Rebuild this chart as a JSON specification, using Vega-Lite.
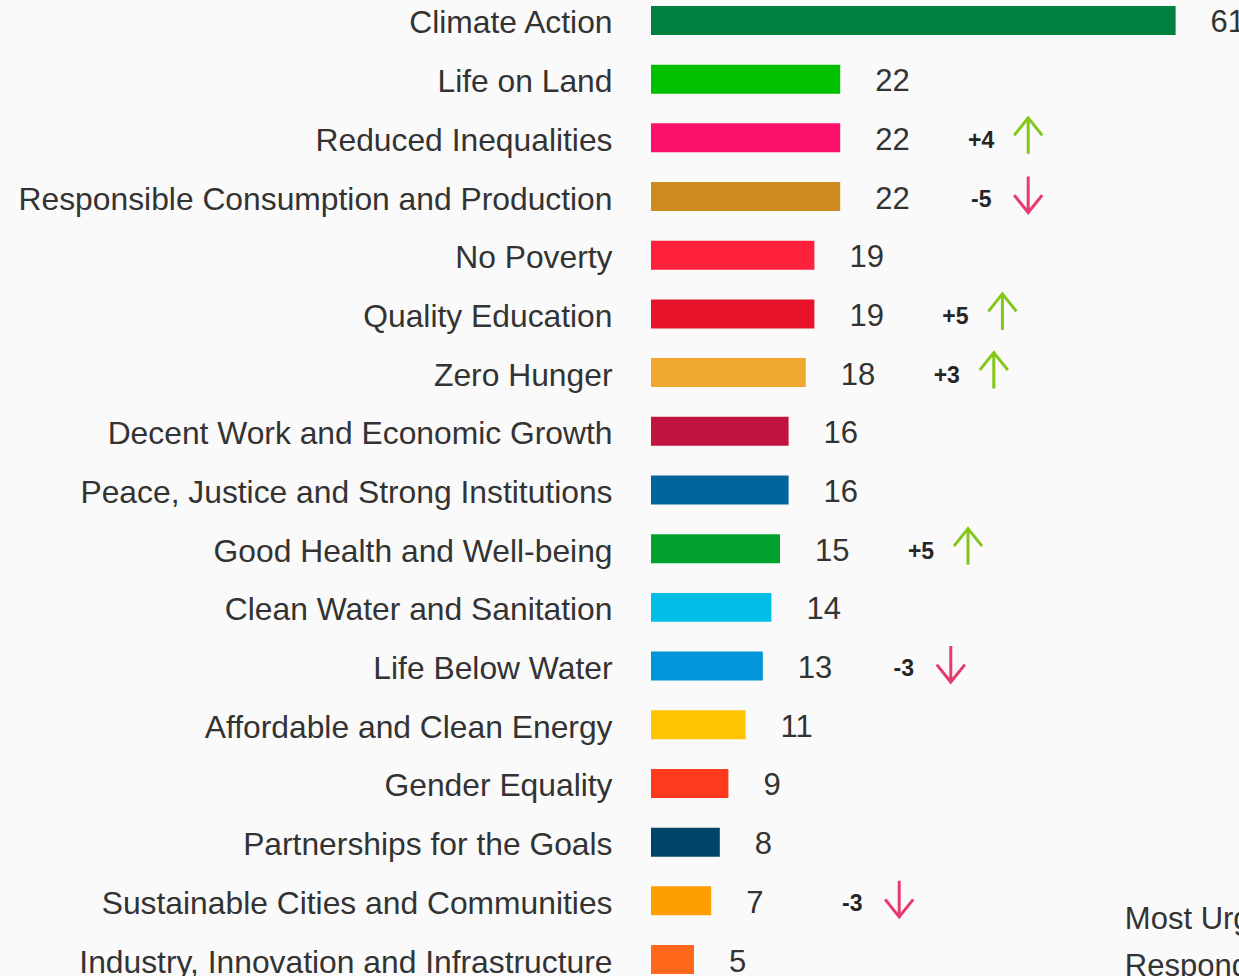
{
  "$schema": "https://vega.github.io/schema/vega-lite/v6.json",
  "autosize": "none",
  "width": 602,
  "height": 976,
  "padding": {"left": 651, "top": 0, "right": 0, "bottom": 0},
  "background": "#fafafa",
  "config": {
    "view": {"stroke": null},
    "font": "Liberation Sans",
    "text": {"font": "Liberation Sans"}
  },
  "data": {
    "values": [
      {"goal": "Climate Action", "value": 61},
      {"goal": "Life on Land", "value": 22},
      {"goal": "Reduced Inequalities", "value": 22, "change": "+4"},
      {"goal": "Responsible Consumption and Production", "value": 22, "change": "-5"},
      {"goal": "No Poverty", "value": 19},
      {"goal": "Quality Education", "value": 19, "change": "+5"},
      {"goal": "Zero Hunger", "value": 18, "change": "+3"},
      {"goal": "Decent Work and Economic Growth", "value": 16},
      {"goal": "Peace, Justice and Strong Institutions", "value": 16},
      {"goal": "Good Health and Well-being", "value": 15, "change": "+5"},
      {"goal": "Clean Water and Sanitation", "value": 14},
      {"goal": "Life Below Water", "value": 13, "change": "-3"},
      {"goal": "Affordable and Clean Energy", "value": 11},
      {"goal": "Gender Equality", "value": 9},
      {"goal": "Partnerships for the Goals", "value": 8},
      {"goal": "Sustainable Cities and Communities", "value": 7, "change": "-3"},
      {"goal": "Industry, Innovation and Infrastructure", "value": 5}
    ]
  },
  "layer": [
    {
      "mark": {"type": "bar"},
      "encoding": {
        "y": {
          "field": "goal",
          "type": "nominal",
          "sort": null,
          "scale": {"paddingInner": 0.506, "paddingOuter": 0.068, "align": 0.75},
          "axis": {
            "title": null,
            "domain": false,
            "ticks": false,
            "labelFont": "Liberation Sans",
            "labelFontSize": 31.8,
            "labelColor": "#333333",
            "labelPadding": 39,
            "labelOffset": 3,
            "labelLimit": 1000
          }
        },
        "x": {
          "field": "value",
          "type": "quantitative",
          "scale": {"domain": [0, 70], "nice": false},
          "axis": null
        },
        "color": {
          "field": "goal",
          "type": "nominal",
          "legend": null,
          "scale": {
            "domain": ["Climate Action", "Life on Land", "Reduced Inequalities", "Responsible Consumption and Production", "No Poverty", "Quality Education", "Zero Hunger", "Decent Work and Economic Growth", "Peace, Justice and Strong Institutions", "Good Health and Well-being", "Clean Water and Sanitation", "Life Below Water", "Affordable and Clean Energy", "Gender Equality", "Partnerships for the Goals", "Sustainable Cities and Communities", "Industry, Innovation and Infrastructure"],
            "range": ["#00803e", "#00c000", "#fe116b", "#cf8b1f", "#ff213c", "#e6132b", "#efa72d", "#c0143e", "#00659d", "#00a12d", "#00bee6", "#0096d9", "#ffc400", "#ff3a1c", "#004468", "#ff9e00", "#ff681b"]
          }
        }
      }
    },
    {
      "mark": {"type": "text", "align": "left", "baseline": "middle", "dx": 35, "dy": 3, "fontSize": 31, "color": "#333333"},
      "encoding": {
        "y": {"field": "goal", "type": "nominal", "sort": null},
        "x": {"field": "value", "type": "quantitative"},
        "text": {"field": "value", "type": "quantitative"}
      }
    },
    {
      "transform": [{"filter": "isValid(datum.change)"}],
      "mark": {"type": "text", "align": "center", "baseline": "middle", "dx": 141, "dy": 3, "fontSize": 23, "fontWeight": "bold", "color": "#262626"},
      "encoding": {
        "y": {"field": "goal", "type": "nominal", "sort": null},
        "x": {"field": "value", "type": "quantitative"},
        "text": {"field": "change", "type": "nominal"}
      }
    },
    {
      "transform": [{"filter": "isValid(datum.change) && toNumber(datum.change) > 0"}],
      "mark": {"type": "point", "shape": "M0,-1L0,1M-0.78,-0.03L0,-1L0.78,-0.03", "filled": false, "stroke": "#84c61a", "strokeWidth": 3, "size": 1296, "opacity": 1, "xOffset": 188, "yOffset": -2},
      "encoding": {
        "y": {"field": "goal", "type": "nominal", "sort": null},
        "x": {"field": "value", "type": "quantitative"}
      }
    },
    {
      "transform": [{"filter": "isValid(datum.change) && toNumber(datum.change) < 0"}],
      "mark": {"type": "point", "shape": "M0,-1L0,1M-0.78,0.03L0,1L0.78,0.03", "filled": false, "stroke": "#e83a6e", "strokeWidth": 3, "size": 1296, "opacity": 1, "xOffset": 188, "yOffset": -2},
      "encoding": {
        "y": {"field": "goal", "type": "nominal", "sort": null},
        "x": {"field": "value", "type": "quantitative"}
      }
    },
    {
      "transform": [{"filter": "datum.goal === 'Sustainable Cities and Communities'"}],
      "mark": {"type": "text", "align": "left", "baseline": "alphabetic", "lineHeight": 47, "dy": 28, "fontSize": 31, "color": "#333333"},
      "encoding": {
        "x": {"datum": 55.1},
        "y": {"field": "goal", "type": "nominal", "sort": null},
        "text": {"value": ["Most Urgent", "Respondents"]}
      }
    }
  ]
}
